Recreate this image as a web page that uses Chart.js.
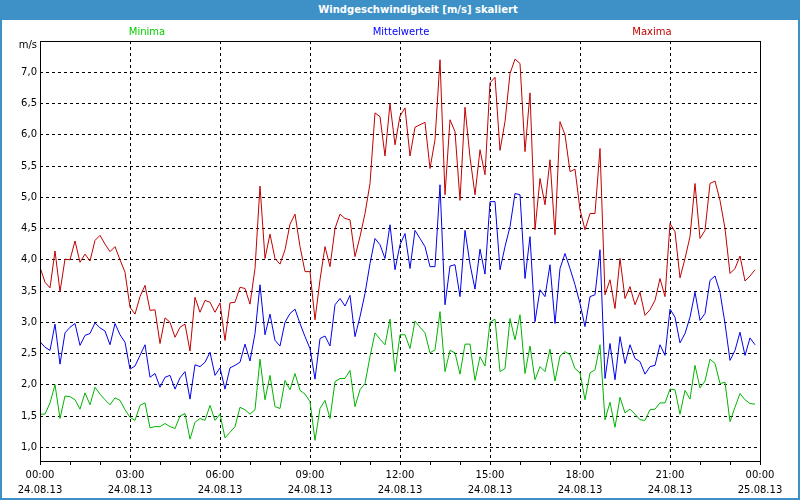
<!DOCTYPE html>
<html>
<head>
<meta charset="utf-8">
<script src="https://cdn.jsdelivr.net/npm/chart.js@4.4.0/dist/chart.umd.min.js"></script>
<style>
  html, body { margin: 0; padding: 0; background: #fff; }
  #frame { width: 800px; height: 500px; box-sizing: border-box; border: 2px solid #3d91c7; border-top: none; }
  #titlebar { height: 20px; margin: 0 -2px; padding-left: 36px; background: #3d91c7; color: #fff;
              font: bold 10px 'DejaVu Sans', sans-serif; line-height: 20px; text-align: center; }
</style>
</head>
<body>
<div id="frame">
  <div id="titlebar">Windgeschwindigkeit [m/s] skaliert</div>
  <canvas id="windChart" width="796" height="478"></canvas>
</div>
<script>
// 10-Minuten-Werte, 24.08.13 00:00 bis 23:50
const intervalMinutes = 10;

const minima = [
  1.53, 1.53, 1.71, 2.00, 1.46, 1.82, 1.81, 1.76, 1.61, 1.87, 1.68, 1.96, 1.85, 1.76, 1.68, 1.79, 1.75, 1.60,
  1.48, 1.43, 1.67, 1.71, 1.31, 1.33, 1.33, 1.38, 1.33, 1.30, 1.50, 1.54, 1.13, 1.40, 1.46, 1.43, 1.67, 1.43,
  1.53, 1.15, 1.24, 1.33, 1.64, 1.60, 1.53, 1.60, 2.41, 1.76, 2.15, 1.65, 1.62, 2.07, 1.92, 2.18, 1.91, 1.85,
  1.73, 1.11, 1.62, 1.75, 1.46, 2.05, 2.10, 2.10, 2.23, 1.65, 1.92, 2.02, 2.45, 2.83, 2.73, 2.64, 3.05, 2.21,
  2.80, 2.80, 2.58, 3.02, 2.92, 2.83, 2.51, 2.56, 3.17, 2.21, 2.55, 2.51, 2.17, 2.65, 2.65, 2.07, 2.45, 2.30,
  3.00, 3.05, 2.21, 2.26, 3.06, 2.72, 3.12, 2.18, 2.62, 2.08, 2.29, 2.21, 2.57, 2.06, 2.46, 2.53, 2.48, 2.26,
  2.19, 1.76, 2.19, 2.24, 2.64, 1.44, 1.72, 1.32, 1.80, 1.55, 1.61, 1.53, 1.44, 1.43, 1.60, 1.61, 1.71, 1.71,
  1.93, 1.92, 1.53, 1.91, 1.77, 2.31, 1.95, 2.06, 2.41, 2.34, 2.02, 2.04, 1.41, 1.64, 1.86, 1.76, 1.70, 1.69
];

const mittelwerte = [
  2.69, 2.60, 2.55, 2.97, 2.33, 2.83, 2.92, 2.98, 2.63, 2.79, 2.82, 2.99, 2.91, 2.86, 2.64, 2.98, 2.80, 2.68,
  2.25, 2.30, 2.47, 2.64, 2.12, 2.18, 1.96, 2.12, 2.15, 1.93, 2.11, 2.21, 1.77, 2.32, 2.29, 2.36, 2.52, 2.15,
  2.27, 1.93, 2.27, 2.31, 2.36, 2.65, 2.38, 2.82, 3.60, 2.80, 3.13, 2.71, 2.62, 3.00, 3.14, 3.21, 2.98, 2.77,
  2.58, 2.09, 2.74, 2.78, 2.62, 3.28, 3.38, 3.26, 3.43, 2.77, 3.09, 3.46, 3.94, 4.34, 4.24, 4.02, 4.56, 3.84,
  4.24, 4.42, 3.86, 4.47, 4.34, 4.21, 3.89, 3.89, 5.20, 3.28, 3.90, 3.92, 3.41, 4.47, 3.93, 3.53, 4.17, 3.77,
  4.93, 4.93, 3.84, 4.21, 4.53, 5.06, 5.04, 3.70, 4.37, 3.01, 3.52, 3.41, 3.92, 2.98, 3.86, 4.10, 3.86, 3.60,
  3.30, 2.93, 3.41, 3.44, 4.16, 2.10, 2.66, 2.08, 2.77, 2.34, 2.64, 2.42, 2.37, 2.17, 2.29, 2.31, 2.64, 2.47,
  3.21, 3.08, 2.67, 2.82, 3.08, 3.48, 3.03, 3.14, 3.67, 3.74, 3.48, 2.98, 2.39, 2.55, 2.84, 2.47, 2.75, 2.64
];

const maxima = [
  3.88, 3.64, 3.55, 4.14, 3.49, 4.01, 4.00, 4.30, 3.96, 4.09, 3.98, 4.31, 4.39, 4.25, 4.13, 4.21, 4.00, 3.80,
  3.24, 3.13, 3.41, 3.59, 3.19, 3.20, 2.66, 3.07, 3.00, 2.76, 2.92, 2.97, 2.54, 3.40, 3.16, 3.35, 3.32, 3.16,
  3.31, 2.71, 3.31, 3.32, 3.56, 3.54, 3.29, 3.86, 5.18, 4.02, 4.41, 4.02, 3.93, 4.16, 4.57, 4.73, 4.21, 3.81,
  3.81, 3.04, 3.68, 4.21, 3.89, 4.50, 4.73, 4.66, 4.64, 4.05, 4.37, 4.74, 5.22, 6.35, 6.29, 5.66, 6.50, 5.84,
  6.30, 6.43, 5.66, 6.12, 6.16, 6.20, 5.46, 5.92, 7.20, 5.04, 6.24, 6.05, 4.95, 6.44, 5.64, 5.04, 5.76, 5.36,
  6.83, 6.92, 5.75, 6.21, 6.98, 7.21, 7.14, 5.73, 6.67, 4.48, 5.30, 4.88, 5.60, 4.40, 6.21, 6.00, 5.41, 5.45,
  4.80, 4.48, 4.74, 4.74, 5.78, 3.44, 3.68, 3.22, 4.02, 3.38, 3.57, 3.28, 3.48, 3.11, 3.20, 3.35, 3.70, 3.41,
  4.58, 4.45, 3.71, 4.02, 4.37, 5.22, 4.34, 4.47, 5.22, 5.26, 4.95, 4.50, 3.78, 3.86, 4.06, 3.66, 3.74, 3.84
];

const yTickValues = [1.0, 1.5, 2.0, 2.5, 3.0, 3.5, 4.0, 4.5, 5.0, 5.5, 6.0, 6.5, 7.0];
const timeLabels = ['00:00', '03:00', '06:00', '09:00', '12:00', '15:00', '18:00', '21:00', '00:00'];
const dateLabels = ['24.08.13', '24.08.13', '24.08.13', '24.08.13', '24.08.13', '24.08.13', '24.08.13', '24.08.13', '25.08.13'];

const seriesNames = ['Minima', 'Mittelwerte', 'Maxima'];
const seriesColors = ['#00b400', '#0000ee', '#c00000'];
const legendColors = ['#00cc00', '#0000ff', '#c00000'];

const FONT = "'DejaVu Sans', sans-serif";

function toPoints(values) {
  return values.map((v, i) => ({ x: i * intervalMinutes / 60, y: v }));
}

const frameLabels = {
  id: 'frameLabels',
  afterDraw(chart) {
    const { ctx, chartArea } = chart;
    ctx.save();
    ctx.strokeStyle = '#000';
    ctx.lineWidth = 1;
    ctx.setLineDash([]);
    ctx.strokeRect(Math.round(chartArea.left) + 0.5, Math.round(chartArea.top) + 0.5,
      Math.round(chartArea.right - chartArea.left), Math.round(chartArea.bottom - chartArea.top));

    ctx.font = '10px ' + FONT;
    ctx.textBaseline = 'middle';
    ctx.textAlign = 'center';
    const legendX = [145, 399, 650];
    seriesNames.forEach((name, i) => {
      ctx.fillStyle = legendColors[i];
      ctx.fillText(name, legendX[i], 12);
    });

    ctx.fillStyle = '#000';
    ctx.textAlign = 'right';
    ctx.fillText('m/s', 35, 25);
    ctx.restore();
  }
};

new Chart(document.getElementById('windChart'), {
  type: 'line',
  data: {
    datasets: [
      { label: seriesNames[2], data: toPoints(maxima), borderColor: seriesColors[2] },
      { label: seriesNames[1], data: toPoints(mittelwerte), borderColor: seriesColors[1] },
      { label: seriesNames[0], data: toPoints(minima), borderColor: seriesColors[0] }
    ]
  },
  options: {
    responsive: false,
    animation: false,
    devicePixelRatio: 1,
    layout: { padding: { left: 0, top: 21, right: 38, bottom: 0 } },
    elements: {
      line: { borderWidth: 1, tension: 0, fill: false },
      point: { radius: 0, hoverRadius: 0 }
    },
    plugins: {
      legend: { display: false },
      tooltip: { enabled: false }
    },
    scales: {
      x: {
        type: 'linear',
        min: 0,
        max: 24,
        afterBuildTicks: (scale) => {
          const ticks = [];
          for (let h = 0; h <= 24; h++) ticks.push({ value: h });
          scale.ticks = ticks;
        },
        afterFit: (scale) => {
          scale.height = 37;
          scale.paddingLeft = 0;
          scale.paddingRight = 0;
        },
        ticks: {
          autoSkip: false,
          maxRotation: 0,
          padding: 3,
          color: '#000',
          font: { family: FONT, size: 10, lineHeight: 1.5 },
          callback: (value) => value % 3 === 0 ? [timeLabels[value / 3], dateLabels[value / 3]] : ''
        },
        grid: {
          color: (ctx) => (ctx.tick && ctx.tick.value % 3 === 0) ? '#000' : 'rgba(0,0,0,0)',
          tickColor: '#000',
          tickLength: 4,
          tickBorderDash: []
        },
        border: { display: false, dash: [3, 3] }
      },
      y: {
        type: 'linear',
        min: 0.78,
        max: 7.5,
        afterBuildTicks: (scale) => {
          scale.ticks = yTickValues.map(v => ({ value: v }));
        },
        afterFit: (scale) => {
          scale.width = 38;
          scale.paddingTop = 0;
          scale.paddingBottom = 0;
        },
        ticks: {
          padding: 3,
          color: '#000',
          font: { family: FONT, size: 10 },
          callback: (value) => value.toFixed(1).replace('.', ',')
        },
        grid: { color: '#000', drawTicks: false },
        border: { display: false, dash: [3, 3] }
      }
    }
  },
  plugins: [frameLabels]
});
</script>
</body>
</html>
